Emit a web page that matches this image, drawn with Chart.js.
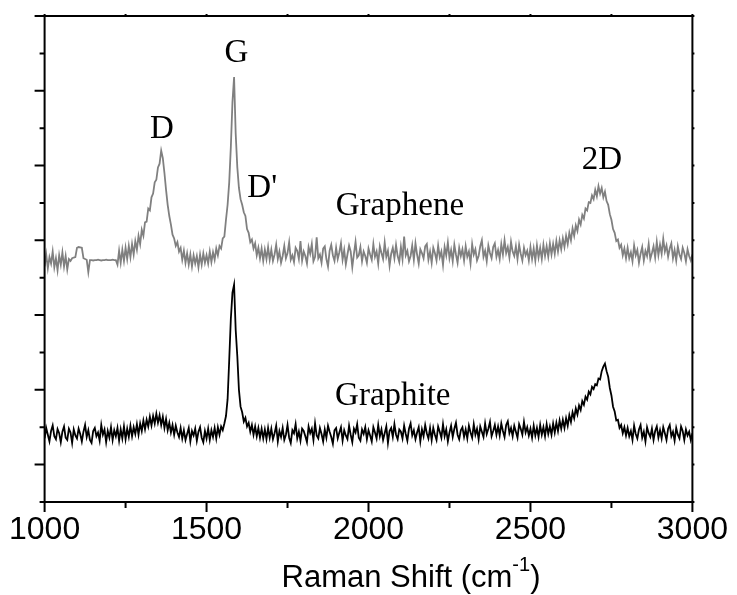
<!DOCTYPE html>
<html>
<head>
<meta charset="utf-8">
<script src="https://cdn.jsdelivr.net/npm/chart.js@4.4.1/dist/chart.umd.min.js"></script>
<style>
html,body{margin:0;padding:0;background:#fff;}
canvas{display:block;}
</style>
</head>
<body>
<canvas id="c" width="737" height="595"></canvas>
<script>
// Raman shift (cm^-1)
const ramanShift = [
1000,1005,1010,1015,1020,1025,1030,1035,1040,1045,1050,1055,1060,1065,1070,1075,1080,1085,1090,1095,
1100,1105,1110,1115,1120,1125,1130,1135,1140,1145,1150,1155,1160,1165,1170,1175,1180,1185,1190,1195,
1200,1205,1210,1215,1220,1225,1230,1235,1240,1245,1250,1255,1260,1265,1270,1275,1280,1285,1290,1295,
1300,1305,1310,1315,1320,1325,1330,1335,1340,1345,1350,1355,1360,1365,1370,1375,1380,1385,1390,1395,
1400,1405,1410,1415,1420,1425,1430,1435,1440,1445,1450,1455,1460,1465,1470,1475,1480,1485,1490,1495,
1500,1505,1510,1515,1520,1525,1530,1535,1540,1545,1550,1555,1560,1565,1570,1575,1580,1585,1590,1595,
1600,1605,1610,1615,1620,1625,1630,1635,1640,1645,1650,1655,1660,1665,1670,1675,1680,1685,1690,1695,
1700,1705,1710,1715,1720,1725,1730,1735,1740,1745,1750,1755,1760,1765,1770,1775,1780,1785,1790,1795,
1800,1805,1810,1815,1820,1825,1830,1835,1840,1845,1850,1855,1860,1865,1870,1875,1880,1885,1890,1895,
1900,1905,1910,1915,1920,1925,1930,1935,1940,1945,1950,1955,1960,1965,1970,1975,1980,1985,1990,1995,
2000,2005,2010,2015,2020,2025,2030,2035,2040,2045,2050,2055,2060,2065,2070,2075,2080,2085,2090,2095,
2100,2105,2110,2115,2120,2125,2130,2135,2140,2145,2150,2155,2160,2165,2170,2175,2180,2185,2190,2195,
2200,2205,2210,2215,2220,2225,2230,2235,2240,2245,2250,2255,2260,2265,2270,2275,2280,2285,2290,2295,
2300,2305,2310,2315,2320,2325,2330,2335,2340,2345,2350,2355,2360,2365,2370,2375,2380,2385,2390,2395,
2400,2405,2410,2415,2420,2425,2430,2435,2440,2445,2450,2455,2460,2465,2470,2475,2480,2485,2490,2495,
2500,2505,2510,2515,2520,2525,2530,2535,2540,2545,2550,2555,2560,2565,2570,2575,2580,2585,2590,2595,
2600,2605,2610,2615,2620,2625,2630,2635,2640,2645,2650,2655,2660,2665,2670,2675,2680,2685,2690,2695,
2700,2705,2710,2715,2720,2725,2730,2735,2740,2745,2750,2755,2760,2765,2770,2775,2780,2785,2790,2795,
2800,2805,2810,2815,2820,2825,2830,2835,2840,2845,2850,2855,2860,2865,2870,2875,2880,2885,2890,2895,
2900,2905,2910,2915,2920,2925,2930,2935,2940,2945,2950,2955,2960,2965,2970,2975,2980,2985,2990,2995,
3000
];

// Intensity (arb. units, offset)
const grapheneIntensity = [
6.30,6.62,6.25,6.55,6.38,6.70,6.28,6.52,6.20,6.60,6.35,6.68,6.30,6.58,6.22,6.50,6.45,6.52,6.54,6.55,
6.80,6.82,6.81,6.80,6.52,6.50,6.48,6.15,6.47,6.47,6.46,6.47,6.47,6.48,6.47,6.46,6.47,6.47,6.48,6.47,
6.47,6.47,6.48,6.47,6.47,6.35,6.72,6.40,6.75,6.45,6.80,6.50,6.85,6.55,6.90,6.62,6.98,6.75,7.12,6.90,
7.28,7.12,7.48,7.50,7.85,7.80,8.15,8.25,8.55,8.62,8.95,9.05,9.40,9.20,8.80,8.35,7.95,7.65,7.42,7.15,
7.05,6.85,6.95,6.70,6.80,6.48,6.72,6.40,6.65,6.35,6.62,6.30,6.60,6.38,6.58,6.28,6.62,6.35,6.65,6.40,
6.60,6.38,6.70,6.42,6.68,6.48,6.78,6.60,6.85,6.78,7.05,7.10,7.55,7.95,8.55,9.50,10.70,11.37,9.85,8.95,
8.40,8.10,7.95,7.75,7.65,7.30,7.20,6.95,7.02,6.78,6.92,6.60,6.80,6.52,6.78,6.45,6.75,6.50,6.82,6.48,
6.75,6.45,6.62,6.88,6.50,6.70,6.40,6.58,6.85,6.52,6.66,6.95,6.48,6.60,6.42,6.80,6.72,6.50,6.98,6.46,
6.70,6.58,6.38,6.82,6.64,6.90,6.44,6.56,7.08,6.52,6.62,6.40,6.78,6.84,6.50,6.30,6.72,6.88,6.60,6.45,
6.80,6.50,6.68,6.92,6.48,6.74,6.36,6.62,6.86,6.70,6.28,6.64,6.96,6.54,6.60,6.82,6.44,6.70,6.58,6.40,
6.78,6.62,6.48,6.90,6.56,6.70,6.38,6.84,6.66,6.50,6.94,6.56,6.72,6.32,6.64,6.80,6.52,6.88,6.58,6.42,
6.82,6.50,7.10,6.60,6.72,6.44,6.58,6.86,6.48,6.92,6.62,6.38,6.76,6.66,6.52,6.84,6.90,6.48,6.70,6.40,
6.80,6.66,6.46,6.86,6.55,6.70,6.34,6.82,6.60,6.94,6.52,6.74,6.44,6.88,6.62,6.40,6.80,6.58,6.76,6.46,
6.84,6.56,6.70,6.38,6.90,6.62,6.76,6.46,6.58,6.84,7.00,6.56,6.72,6.44,6.86,6.66,6.52,6.82,6.92,6.56,
6.74,6.50,6.90,6.62,7.00,6.66,6.82,6.54,6.96,6.70,6.58,6.84,6.50,6.88,6.64,6.46,6.80,6.60,6.72,6.46,
6.82,6.50,6.78,6.46,6.86,6.54,6.80,6.50,6.88,6.58,6.84,6.56,6.92,6.62,6.90,6.64,6.98,6.70,7.00,6.76,
7.05,6.82,7.12,6.90,7.20,7.00,7.32,7.12,7.40,7.25,7.55,7.42,7.68,7.58,7.85,7.80,8.02,8.00,8.20,8.10,
8.35,8.18,8.45,8.25,8.40,8.15,8.30,8.05,7.95,7.70,7.55,7.30,7.20,6.98,7.02,6.80,6.88,6.60,6.78,6.52,
6.80,6.52,6.68,6.44,6.86,6.60,6.74,6.40,6.64,6.82,6.46,6.72,6.58,6.90,6.50,6.66,6.84,6.54,6.96,6.60,
6.88,6.64,7.04,6.70,6.86,6.56,6.78,6.92,6.52,6.74,6.46,6.84,6.62,6.50,6.80,6.66,6.44,6.76,6.58,6.46,
6.62
];

const graphiteIntensity = [
1.70,1.98,1.80,1.62,1.90,2.05,1.76,1.68,1.95,1.84,1.60,1.88,2.02,1.72,1.66,1.96,1.86,1.58,1.94,1.78,
1.70,1.96,1.82,1.62,1.88,2.06,1.74,1.92,1.66,1.58,1.90,1.98,1.76,1.86,1.64,2.06,1.80,1.94,1.60,1.90,
1.72,2.00,1.66,1.92,1.76,1.98,1.64,1.94,1.70,2.02,1.68,1.96,1.74,2.04,1.76,2.00,1.82,2.08,1.80,2.10,
1.90,2.18,1.95,2.20,2.02,2.28,2.05,2.30,2.10,2.36,2.12,2.32,2.06,2.28,1.98,2.22,1.92,2.12,1.86,2.06,
1.80,2.04,1.86,1.74,1.98,1.70,1.92,1.66,1.82,1.98,1.62,1.90,1.78,1.96,1.64,1.88,2.00,1.72,1.60,1.90,
1.70,1.96,1.66,1.92,1.74,1.98,1.70,2.00,1.80,2.02,1.92,2.10,2.30,2.75,3.80,4.90,5.60,5.81,4.60,3.90,
3.00,2.55,2.40,2.15,2.25,2.02,2.12,1.88,2.06,1.80,2.02,1.76,1.98,1.72,1.96,1.70,1.94,1.68,1.98,1.72,
1.96,1.68,1.84,2.04,1.62,1.90,1.74,1.98,1.66,1.80,2.06,1.72,1.58,1.92,1.84,2.08,1.70,1.88,1.64,1.96,
1.90,1.76,1.60,2.02,1.84,1.96,1.66,2.10,1.78,1.70,1.98,1.82,1.62,1.94,1.72,2.04,1.88,1.74,1.56,1.92,
1.98,1.70,1.86,2.00,1.64,1.92,1.78,1.68,2.04,1.80,1.60,1.96,1.86,2.08,1.72,1.64,1.94,1.82,2.00,1.68,
1.92,1.78,1.62,2.00,1.86,1.70,2.06,1.76,1.94,1.66,1.84,2.02,1.58,1.90,1.98,1.74,2.08,1.80,1.68,1.94,
1.88,1.70,2.04,1.82,1.64,1.96,2.10,1.78,1.92,1.68,1.86,2.00,1.62,1.94,1.76,2.06,1.84,1.70,1.98,1.66,
1.98,1.80,1.66,2.02,1.88,1.72,2.08,1.76,1.94,1.62,1.86,2.04,1.74,1.96,2.12,1.80,1.68,1.92,2.00,1.74,
1.94,1.70,2.04,1.86,1.72,2.08,1.80,1.96,1.68,2.02,1.88,1.74,2.10,1.82,1.96,2.14,1.76,1.90,2.06,1.80,
2.02,1.78,2.10,1.90,1.74,2.06,2.16,1.84,1.98,1.76,2.04,1.88,1.72,2.08,1.96,1.80,2.14,1.86,2.00,1.78,
1.96,1.72,2.04,1.78,1.98,1.74,2.06,1.80,2.00,1.76,2.08,1.82,2.02,1.80,2.10,1.86,2.12,1.90,2.18,1.96,
2.20,1.98,2.24,2.04,2.32,2.14,2.40,2.24,2.50,2.34,2.58,2.46,2.70,2.60,2.82,2.74,2.95,2.88,3.08,3.02,
3.15,3.12,3.30,3.28,3.50,3.62,3.70,3.50,3.35,3.05,2.85,2.55,2.42,2.18,2.20,1.98,2.06,1.84,2.00,1.78,
1.98,1.76,1.90,1.66,2.04,1.82,1.70,1.94,2.06,1.72,1.88,1.62,2.00,1.84,1.74,1.96,1.66,1.90,2.02,1.72,
1.92,1.70,2.00,1.84,1.66,1.96,2.06,1.76,1.88,1.64,1.98,1.80,1.70,2.02,1.90,1.66,1.94,1.78,1.88,1.66,
1.84
];

// Axis ticks
const xMajorTicks = [1000, 1500, 2000, 2500, 3000];
const xMinorTicks = [1250, 1750, 2250, 2750];
const yMajorTicks = [1, 3, 5, 7, 9, 11, 13];
const yMinorTicks = [0, 2, 4, 6, 8, 10, 12];

// Text labels placed in data coordinates
const peakLabels = [
  {text: 'D',  x: 1362, y: 9.74},
  {text: 'G',  x: 1592, y: 11.77},
  {text: "D'", x: 1672, y: 8.16},
  {text: '2D', x: 2721, y: 8.91}
];
const seriesLabels = [
  {text: 'Graphene', x: 2097, y: 7.68},
  {text: 'Graphite', x: 2075, y: 2.59}
];

if (ramanShift.length !== grapheneIntensity.length || ramanShift.length !== graphiteIntensity.length) {
  console.error('length mismatch', ramanShift.length, grapheneIntensity.length, graphiteIntensity.length);
}

const toPoints = arr => ramanShift.map((x, i) => ({x: x, y: arr[i]}));

const framePlugin = {
  id: 'frame',
  afterDraw(chart) {
    const {ctx, chartArea: a, scales: {x, y}} = chart;
    ctx.save();
    ctx.strokeStyle = '#000';
    ctx.lineWidth = 2;
    ctx.strokeRect(a.left, a.top, a.right - a.left, a.bottom - a.top);
    ctx.beginPath();
    yMajorTicks.forEach(v => {
      const py = y.getPixelForValue(v);
      ctx.moveTo(a.left - 10, py); ctx.lineTo(a.left, py);
      ctx.moveTo(a.right, py); ctx.lineTo(a.right + 2, py);
    });
    yMinorTicks.forEach(v => {
      const py = y.getPixelForValue(v);
      ctx.moveTo(a.left - 5, py); ctx.lineTo(a.left, py);
      ctx.moveTo(a.right, py); ctx.lineTo(a.right + 2, py);
    });
    xMajorTicks.forEach(v => {
      const px = x.getPixelForValue(v);
      ctx.moveTo(px, a.bottom); ctx.lineTo(px, a.bottom + 10);
      ctx.moveTo(px, a.top); ctx.lineTo(px, a.top - 2);
    });
    xMinorTicks.forEach(v => {
      const px = x.getPixelForValue(v);
      ctx.moveTo(px, a.bottom); ctx.lineTo(px, a.bottom + 6);
      ctx.moveTo(px, a.top); ctx.lineTo(px, a.top - 2);
    });
    ctx.stroke();

    ctx.fillStyle = '#000';
    ctx.textAlign = 'center';
    ctx.textBaseline = 'alphabetic';
    ctx.font = "33px 'Liberation Serif', 'Times New Roman', serif";
    peakLabels.concat(seriesLabels).forEach(l => {
      ctx.fillText(l.text, x.getPixelForValue(l.x), y.getPixelForValue(l.y));
    });

    const main = 'Raman Shift (cm';
    const sup = '-1';
    const close = ')';
    const bigFont = "31px 'Liberation Sans', Arial, sans-serif";
    const smallFont = "20px 'Liberation Sans', Arial, sans-serif";
    ctx.font = bigFont;
    const w1 = ctx.measureText(main).width;
    const w3 = ctx.measureText(close).width;
    ctx.font = smallFont;
    const w2 = ctx.measureText(sup).width;
    const total = w1 + w2 + w3;
    const cx = 411;
    const base = 587;
    const sx = cx - total / 2;
    ctx.textAlign = 'left';
    ctx.font = bigFont;
    ctx.fillText(main, sx, base);
    ctx.font = smallFont;
    ctx.fillText(sup, sx + w1, base - 16);
    ctx.font = bigFont;
    ctx.fillText(close, sx + w1 + w2, base);
    ctx.restore();
  }
};

new Chart(document.getElementById('c'), {
  type: 'line',
  data: {
    datasets: [
      {label: 'Graphene', data: toPoints(grapheneIntensity), borderColor: '#808080', borderWidth: 1.8, pointRadius: 0, tension: 0, fill: false},
      {label: 'Graphite', data: toPoints(graphiteIntensity), borderColor: '#000000', borderWidth: 1.8, pointRadius: 0, tension: 0, fill: false}
    ]
  },
  options: {
    responsive: false,
    animation: false,
    devicePixelRatio: 1,
    layout: {padding: {top: 16, right: 41, left: 0, bottom: 0}},
    plugins: {legend: {display: false}, tooltip: {enabled: false}},
    scales: {
      x: {
        type: 'linear', min: 1000, max: 3000,
        grid: {display: false, drawTicks: false},
        border: {display: false},
        ticks: {
          stepSize: 500, autoSkip: false, maxRotation: 0, padding: 9,
          color: '#000',
          font: {family: "'Liberation Sans', Arial, sans-serif", size: 32},
          callback: v => String(v)
        },
        afterFit: s => { s.height = 93; }
      },
      y: {
        min: 0, max: 13,
        grid: {display: false, drawTicks: false},
        border: {display: false},
        ticks: {display: false},
        afterFit: s => { s.width = 44; }
      }
    }
  },
  plugins: [framePlugin]
});
</script>
</body>
</html>
